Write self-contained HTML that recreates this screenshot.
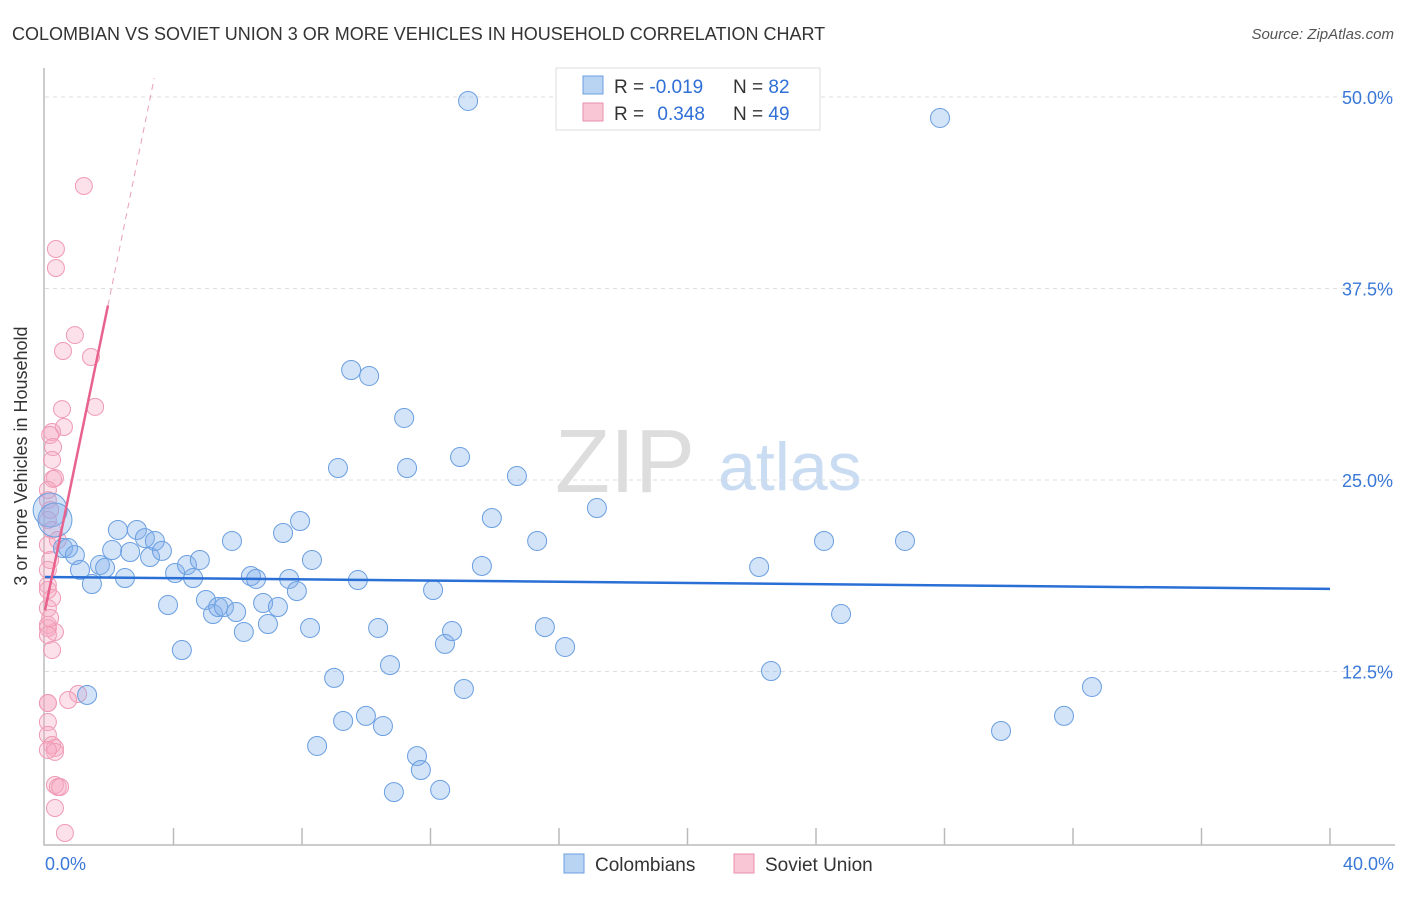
<!DOCTYPE html>
<html><head><meta charset="utf-8"><style>
body{margin:0;background:#fff;font-family:"Liberation Sans",sans-serif}
svg text{font-family:"Liberation Sans",sans-serif}
</style></head><body>
<svg id="chart" width="1406" height="892" xmlns="http://www.w3.org/2000/svg">
<text x="12" y="40" font-size="18" fill="#333">COLOMBIAN VS SOVIET UNION 3 OR MORE VEHICLES IN HOUSEHOLD CORRELATION CHART</text>
<text x="1394" y="39" font-size="15" fill="#555" text-anchor="end" font-style="italic">Source: ZipAtlas.com</text>
<text x="27" y="456" font-size="18" fill="#333" text-anchor="middle" transform="rotate(-90 27 456)">3 or more Vehicles in Household</text>
<g><text x="555" y="492" font-size="90" fill="#ddd" font-family="Liberation Serif">ZIP</text><text x="718" y="490" font-size="68" fill="#c9dcf2">atlas</text></g>
<g id="grid"></g><g id="axes"></g><g id="pink"></g><g id="blue"></g><g id="trends"></g>
<g>
<rect x="556" y="68" width="264" height="62" fill="#fff" stroke="#ddd"/>
<rect x="583" y="76" width="20" height="18" fill="#b9d3f3" stroke="#6a9fe0"/>
<rect x="583" y="103" width="20" height="18" fill="#f9c6d5" stroke="#ea8fab"/>
<text x="614" y="93" font-size="19" fill="#333">R = <tspan fill="#2f6fd6">-0.019</tspan></text>
<text x="733" y="93" font-size="19" fill="#333">N = <tspan fill="#2f6fd6">82</tspan></text>
<text x="614" y="120" font-size="19" fill="#333">R = <tspan fill="#2f6fd6" dx="8">0.348</tspan></text>
<text x="733" y="120" font-size="19" fill="#333">N = <tspan fill="#2f6fd6">49</tspan></text>
</g>
<g>
<rect x="564" y="854" width="20" height="19" fill="#b9d3f3" stroke="#6a9fe0"/>
<text x="595" y="871" font-size="19" fill="#333">Colombians</text>
<rect x="734" y="854" width="20" height="19" fill="#f9c6d5" stroke="#ea8fab"/>
<text x="765" y="871" font-size="19" fill="#333">Soviet Union</text>
</g>
</svg>
<script>
const yTicks=[12.5,25,37.5,50];
const yTickLabels=["12.5%","25.0%","37.5%","50.0%"];
const xEndLabels=["0.0%","40.0%"];
const blueX=[0.16,0.31,0.56,0.72,0.93,1.09,1.46,1.71,1.87,2.09,2.27,2.49,2.65,2.86,3.11,3.27,3.42,3.64,3.83,4.05,4.26,4.42,4.61,4.82,5.01,5.23,5.39,5.57,5.82,5.95,6.19,6.41,6.57,6.79,6.94,7.25,7.41,7.60,7.84,7.94,8.25,8.31,8.47,9.00,9.12,9.28,9.53,9.74,9.99,10.09,10.37,10.52,10.74,10.86,11.18,11.27,11.58,11.70,12.08,12.30,12.45,12.67,12.92,13.04,13.17,13.60,13.91,14.69,15.32,15.56,16.19,17.18,22.23,22.60,24.25,24.78,26.77,27.86,29.76,31.72,32.59,1.31];
const blueY=[23.04,22.39,20.56,20.56,20.10,19.13,18.21,19.45,19.26,20.43,21.74,18.60,20.30,21.74,21.21,19.97,21.02,20.37,16.84,18.93,13.90,19.45,18.60,19.78,17.17,16.25,16.71,16.71,21.02,16.38,15.08,18.73,18.54,16.97,15.60,16.71,21.54,18.54,17.75,22.32,15.34,19.78,7.64,12.08,25.78,9.27,32.18,18.47,9.60,31.79,15.34,8.94,12.92,4.63,29.05,25.78,6.98,6.07,17.82,4.77,14.30,15.14,26.50,11.36,49.74,19.39,22.52,25.26,21.02,15.40,14.10,23.17,19.32,12.53,21.02,16.25,21.02,48.63,8.62,9.60,11.49,10.97];
const pinkX=[1.21,0.34,0.34,0.93,0.56,1.43,1.56,0.53,0.59,0.22,0.16,0.25,0.31,0.25,0.09,0.09,0.16,0.09,0.22,0.09,0.16,0.09,0.09,0.22,0.09,0.09,0.31,0.09,0.09,0.22,1.03,0.72,0.09,0.09,0.09,0.22,0.31,0.31,0.09,0.31,0.40,0.47,0.31,0.62,0.16,0.09,0.40,0.22,0.09];
const pinkY=[44.19,40.08,38.84,34.46,33.42,33.03,29.77,29.63,28.46,28.13,27.94,27.15,25.13,25.07,24.35,23.69,23.04,22.39,21.74,20.76,19.78,19.13,18.15,17.30,16.64,15.54,15.08,15.34,14.88,13.90,11.03,10.64,10.44,9.20,8.36,7.70,7.51,7.25,7.38,5.09,4.96,4.96,3.59,1.96,15.99,17.82,21.08,26.31,10.44];
const blueTrend=[18.67,17.89];
const pinkTrend=[16.5,10.15];
const NS="http://www.w3.org/2000/svg";
const X0=45,X1=1330,Y0=863,Y50=97;
const sx=v=>X0+(v/40)*(X1-X0);
const sy=v=>Y0-(v/50)*(Y0-Y50);
function mk(tag,attrs,parent){const e=document.createElementNS(NS,tag);for(const k in attrs)e.setAttribute(k,attrs[k]);parent.appendChild(e);return e;}
const grid=document.getElementById('grid'),axes=document.getElementById('axes');
yTicks.forEach((t,i)=>{
 const l=mk('line',{x1:45,x2:1395,y1:sy(t),y2:sy(t),stroke:'#ddd','stroke-dasharray':'4,4'},grid);
 
 
 const tx=mk('text',{x:1393,y:sy(t)+7,'font-size':18,fill:'#3a78d8','text-anchor':'end'},axes);
 tx.textContent=yTickLabels[i];
 
 
});
const ax=mk('path',{d:'M44 68V845H1395',fill:'none',stroke:'#bbb','stroke-width':1.5},axes);


for(let v=4;v<=40;v+=4){const t=mk('line',{x1:sx(v),x2:sx(v),y1:828,y2:845,stroke:'#bbb','stroke-width':1.5},axes);
 
 }
[[45,'start',0],[1394,'end',1]].forEach(([x,a,i])=>{const t=mk('text',{x:x,y:870,'font-size':18,fill:'#3a78d8','text-anchor':a},axes);t.textContent=xEndLabels[i];
 
 });
const pg=document.getElementById('pink');
pinkX.forEach((x,i)=>{const c=mk('circle',{cx:sx(x),cy:sy(pinkY[i]),r:8.5,fill:'rgba(246,170,195,0.35)',stroke:'#ef9ab4','stroke-width':1},pg);
 
 });
const bg=document.getElementById('blue');
blueX.forEach((x,i)=>{const c=mk('circle',{cx:sx(x),cy:sy(blueY[i]),r:i<2?17:9.5,fill:'rgba(130,175,235,0.35)',stroke:'#6a9fe0','stroke-width':1},bg);
 
 });
const tg=document.getElementById('trends');
const bl=mk('line',{x1:sx(0),y1:sy(blueTrend[0]),x2:sx(40),y2:sy(blueTrend[1]),stroke:'#2a6fd6','stroke-width':2.5},tg);


const pxEnd=1.96,pxDash=(50-pinkTrend[0])/pinkTrend[1];
const pl=mk('line',{x1:sx(0),y1:sy(pinkTrend[0]),x2:sx(pxEnd),y2:sy(pinkTrend[0]+pinkTrend[1]*pxEnd),stroke:'#e8628e','stroke-width':2.5},tg);


const pd=mk('line',{x1:sx(pxEnd),y1:sy(pinkTrend[0]+pinkTrend[1]*pxEnd),x2:sx(pxDash+0.1),y2:sy(50)-19,stroke:'#eaa0b8','stroke-width':1,'stroke-dasharray':'6,5'},tg);


</script>
</body></html>
